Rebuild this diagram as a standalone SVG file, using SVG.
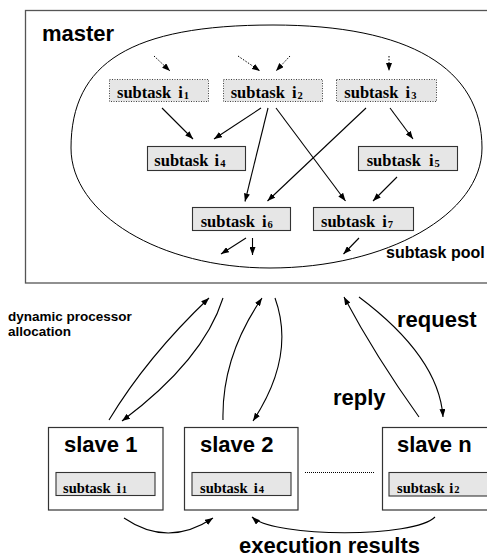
<svg xmlns="http://www.w3.org/2000/svg" width="487" height="558" viewBox="0 0 487 558">
<style>
.frame{fill:#fff;stroke:#555;stroke-width:1.3}
.box{fill:#fff;stroke:#333;stroke-width:1.2}
.task{fill:#e6e6e6;stroke:#333;stroke-width:1.1}
.dot{fill:#e6e6e6;stroke:#444;stroke-width:1;stroke-dasharray:1 1.5}
.pool{fill:none;stroke:#000;stroke-width:1}
.c{fill:none;stroke:#000;stroke-width:1.1;marker-end:url(#ah)}
.cd{fill:none;stroke:#000;stroke-width:1;stroke-dasharray:1.5 1.5;marker-end:url(#ah)}
.big{font-family:"Liberation Sans",Arial,sans-serif;font-weight:bold;font-size:22px;fill:#000}
.mid{font-family:"Liberation Sans",Arial,sans-serif;font-weight:bold;font-size:16px;fill:#000}
.sm{font-family:"Liberation Sans",Arial,sans-serif;font-weight:bold;font-size:13.5px;fill:#000}
.st{font-family:"Liberation Serif","Times New Roman",serif;font-weight:bold;font-size:16.5px;fill:#000}
.st2{font-family:"Liberation Serif","Times New Roman",serif;font-weight:bold;font-size:14.5px;fill:#000}
.sub{font-size:10.5px}
</style>
<defs>
<marker id="ah" viewBox="0 0 8 6" refX="8" refY="3" markerWidth="8" markerHeight="6" markerUnits="userSpaceOnUse" orient="auto">
<path d="M0,0 L8,3 L0,6 z" fill="#000"/>
</marker>
</defs>
<rect width="487" height="558" fill="#fff"/>

<g id="master">
<rect class="frame" x="25.5" y="10.5" width="480" height="272.5"/>
<text class="big" x="42" y="41">master</text>
</g>

<g id="subtask-pool">
<path class="pool" d="M273,25 C131.6,25 71,62.5 71,148 C71,214 160,268 270,268 C387,268 482,214 482,148 C482,68 409,25 273,25 Z"/>
<text class="mid" x="386" y="258">subtask pool</text>
</g>

<g id="node-i1">
<rect class="dot" x="109.5" y="79.5" width="99" height="22"/>
<text class="st" x="117" y="98">subtask <tspan dx="3">i</tspan><tspan class="sub" dx="1" dy="1">1</tspan></text>
</g>
<g id="node-i2">
<rect class="dot" x="223.5" y="79.5" width="99" height="22"/>
<text class="st" x="230.7" y="98">subtask <tspan dx="3">i</tspan><tspan class="sub" dx="1" dy="1">2</tspan></text>
</g>
<g id="node-i3">
<rect class="dot" x="336.5" y="79.5" width="100" height="22"/>
<text class="st" x="344.3" y="98">subtask <tspan dx="3">i</tspan><tspan class="sub" dx="1" dy="1">3</tspan></text>
</g>
<g id="node-i4">
<rect class="task" x="147.5" y="146.5" width="98" height="24"/>
<text class="st" x="154.3" y="165.5">subtask <tspan dx="2">i</tspan><tspan class="sub" dx="1" dy="1">4</tspan></text>
</g>
<g id="node-i5">
<rect class="task" x="358.5" y="146.5" width="99" height="24"/>
<text class="st" x="366.7" y="165.5">subtask <tspan dx="4">i</tspan><tspan class="sub" dx="1" dy="1">5</tspan></text>
</g>
<g id="node-i6">
<rect class="task" x="192.5" y="207.5" width="98" height="23"/>
<text class="st" x="200.7" y="226.5">subtask <tspan dx="3">i</tspan><tspan class="sub" dx="1" dy="1">6</tspan></text>
</g>
<g id="node-i7">
<rect class="task" x="313.5" y="207.5" width="100" height="23"/>
<text class="st" x="321" y="226.5">subtask <tspan dx="3">i</tspan><tspan class="sub" dx="1" dy="1">7</tspan></text>
</g>

<g id="slave-1">
<rect class="box" x="48.5" y="427.5" width="114.5" height="82.5"/>
<text class="big" x="64" y="452">slave 1</text>
<rect class="task" x="56" y="472.5" width="99" height="23"/>
<text class="st2" x="63" y="492.5">subtask <tspan dx="2.5">i</tspan><tspan class="sub" dx="1" dy="0.5">1</tspan></text>
</g>
<g id="slave-2">
<rect class="box" x="184.5" y="427.5" width="113.5" height="82.5"/>
<text class="big" x="200" y="452">slave 2</text>
<rect class="task" x="192" y="472.5" width="99" height="23"/>
<text class="st2" x="200" y="492.5">subtask <tspan dx="2.5">i</tspan><tspan class="sub" dx="1" dy="0.5">4</tspan></text>
</g>
<g id="slave-n">
<rect class="box" x="382.5" y="427.5" width="115" height="82.5"/>
<text class="big" x="397" y="452">slave n</text>
<rect class="task" x="389" y="472.5" width="100" height="23.5"/>
<text class="st2" x="397" y="492.5">subtask <tspan dx="1">i</tspan><tspan class="sub" dx="1" dy="0.5">2</tspan></text>
</g>

<g id="ellipsis">
<line x1="305" y1="472.5" x2="375" y2="472.5" stroke="#000" stroke-width="1" stroke-dasharray="1 1"/>
</g>

<g id="connectors">
<path class="cd" d="M154,56 L170,71"/>
<path class="cd" d="M238,56 L260,71"/>
<path class="cd" d="M290,56 L276,71"/>
<path class="cd" d="M389,56 L389,71"/>
<path class="c" d="M162,108 L193,139"/>
<path class="c" d="M261,108 L214,139"/>
<path class="c" d="M268,108 L245,201.5"/>
<path class="c" d="M276,108 L345.5,201"/>
<path class="c" d="M366,108 L267.5,201"/>
<path class="c" d="M390,108 L413,139"/>
<path class="c" d="M397,177 L373,201"/>
<path class="c" d="M246,238 L221,254"/>
<path class="c" d="M252.5,238 L252.5,255"/>
<path class="c" d="M359,238 L343.5,254"/>
<path class="c" d="M109,420 Q147,357 209,298"/>
<path class="c" d="M223,298 Q203.5,360 122,421"/>
<path class="c" d="M223,420 Q221.5,357 262,298"/>
<path class="c" d="M275,298 Q296,356 253,421"/>
<path class="c" d="M419,417 Q376,357 344,297"/>
<path class="c" d="M359,297 Q439,357 443,417"/>
<path class="c" d="M124,518 Q168,548 213,518"/>
<path class="c" d="M435,517 C415,538 275,538 252,517"/>
</g>

<g id="labels">
<text class="sm" x="8" y="321">dynamic processor</text>
<text class="sm" x="8" y="336">allocation</text>
<text class="big" x="397" y="327">request</text>
<text class="big" x="333" y="405">reply</text>
<text class="big" x="239" y="553">execution results</text>
</g>
</svg>
